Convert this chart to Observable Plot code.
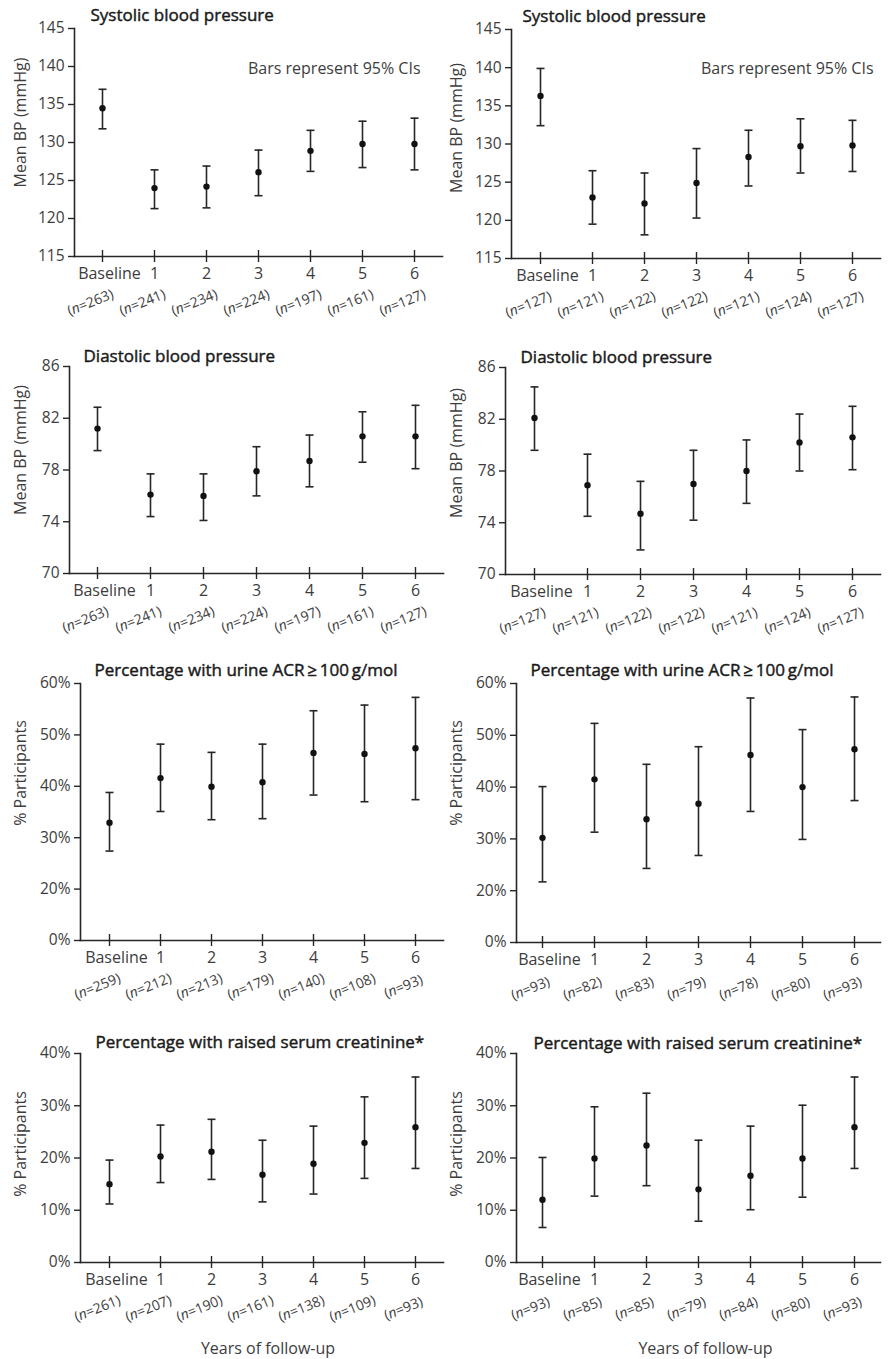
<!DOCTYPE html>
<html>
<head>
<meta charset="utf-8">
<script src="https://cdn.jsdelivr.net/npm/d3@7"></script>
<script src="https://cdn.jsdelivr.net/npm/@observablehq/plot@0.6"></script>
<style>
  html, body { margin: 0; padding: 0; background: #fff; }
  #wrap { position: relative; width: 888px; height: 1359px; background: #fff; overflow: hidden; }
  .panel { position: absolute; }
</style>
</head>
<body>
<div id="wrap"></div>
<script>
// ---------- data ----------
const years = ["Baseline", "1", "2", "3", "4", "5", "6"];

// Systolic BP (left column / right column)
const sbpL_mean = [134.5, 124.0, 124.2, 126.1, 128.9, 129.8, 129.8];
const sbpL_lo   = [131.8, 121.3, 121.4, 123.0, 126.2, 126.7, 126.4];
const sbpL_hi   = [137.0, 126.4, 126.9, 129.0, 131.6, 132.8, 133.2];
const sbpL_n    = [263, 241, 234, 224, 197, 161, 127];

const sbpR_mean = [136.3, 123.0, 122.2, 124.9, 128.3, 129.7, 129.8];
const sbpR_lo   = [132.4, 119.5, 118.1, 120.3, 124.5, 126.2, 126.4];
const sbpR_hi   = [139.9, 126.5, 126.2, 129.4, 131.8, 133.3, 133.1];
const sbpR_n    = [127, 121, 122, 122, 121, 124, 127];

// Diastolic BP
const dbpL_mean = [81.2, 76.1, 76.0, 77.9, 78.7, 80.6, 80.6];
const dbpL_lo   = [79.5, 74.4, 74.1, 76.0, 76.7, 78.6, 78.1];
const dbpL_hi   = [82.85, 77.7, 77.7, 79.8, 80.7, 82.5, 83.0];
const dbpL_n    = [263, 241, 234, 224, 197, 161, 127];

const dbpR_mean = [82.1, 76.9, 74.7, 77.0, 78.0, 80.2, 80.6];
const dbpR_lo   = [79.6, 74.5, 71.9, 74.2, 75.5, 78.0, 78.1];
const dbpR_hi   = [84.5, 79.3, 77.2, 79.6, 80.4, 82.4, 83.0];
const dbpR_n    = [127, 121, 122, 122, 121, 124, 127];

// Urine ACR >= 100 g/mol (%)
const acrL_mean = [32.9, 41.6, 39.9, 40.8, 46.5, 46.3, 47.4];
const acrL_lo   = [27.4, 35.1, 33.5, 33.7, 38.3, 37.0, 37.4];
const acrL_hi   = [38.8, 48.2, 46.6, 48.2, 54.7, 55.8, 57.3];
const acrL_n    = [259, 212, 213, 179, 140, 108, 93];

const acrR_mean = [30.2, 41.5, 33.8, 36.8, 46.2, 40.0, 47.3];
const acrR_lo   = [21.7, 31.3, 24.3, 26.8, 35.3, 29.9, 37.4];
const acrR_hi   = [40.1, 52.3, 44.4, 47.8, 57.2, 51.1, 57.4];
const acrR_n    = [93, 82, 83, 79, 78, 80, 93];

// Raised serum creatinine (%)
const crL_mean = [15.0, 20.3, 21.2, 16.8, 18.9, 22.9, 25.9];
const crL_lo   = [11.2, 15.3, 15.9, 11.6, 13.1, 16.1, 18.0];
const crL_hi   = [19.6, 26.3, 27.4, 23.4, 26.1, 31.7, 35.5];
const crL_n    = [261, 207, 190, 161, 138, 109, 93];

const crR_mean = [12.0, 19.9, 22.4, 14.0, 16.6, 19.9, 25.9];
const crR_lo   = [6.7, 12.7, 14.7, 7.9, 10.1, 12.5, 18.0];
const crR_hi   = [20.1, 29.8, 32.4, 23.4, 26.1, 30.1, 35.5];
const crR_n    = [93, 85, 85, 79, 84, 80, 93];

// tick values
const bpSysTicks = [115, 120, 125, 130, 135, 140, 145];
const bpDiaTicks = [70, 74, 78, 82, 86];
const acrTicks = [0, 20, 30, 40, 50, 60];
const crTicks = [0, 10, 20, 30, 40];

const titles = {
  sbp: "Systolic blood pressure",
  dbp: "Diastolic blood pressure",
  acr: "Percentage with urine ACR\u2009\u2265\u2009100\u2009g/mol",
  cr: "Percentage with raised serum creatinine*"
};
const yLabelBP = "Mean BP (mmHg)";
const yLabelPct = "% Participants";
const noteText = "Bars represent 95% CIs";
const xLabelText = "Years of follow-up";

// ---------- drawing ----------
const INK = "#262626";
const TXT = "#3d3d3d";
const FONT = "'Open Sans', Lato, sans-serif";
const wrap = document.getElementById("wrap");

// horizontal cap symbol for the error-bar ends
const capSymbol = {
  draw(context, size) {
    const r = Math.sqrt(size / Math.PI);
    context.moveTo(-r, 0);
    context.lineTo(r, 0);
  }
};

function rows(mean, lo, hi, n) {
  return years.map((y, i) => ({year: y, mean: mean[i], lo: lo[i], hi: hi[i], n: n[i]}));
}

function panel(p) {
  const data = rows(p.mean, p.lo, p.hi, p.n);
  const W = 444;
  const bottomPx = p.h - p.mB;
  const yScale = {type: "linear", domain: p.yDomain};
  if (p.breakAt) {
    // axis with a break: equal spacing between first and second tick
    const span = bottomPx - p.mT;
    yScale.range = [bottomPx, bottomPx - span / (p.yTicks.length - 1), p.mT];
  }
  const marks = [
    Plot.frame({anchor: "left", stroke: INK, strokeWidth: 1.6}),
    Plot.frame({anchor: "bottom", stroke: INK, strokeWidth: 1.6}),
    Plot.axisY({ticks: p.yTicks, tickFormat: p.yFmt, tickSize: 6, tickPadding: 4, label: null,
      stroke: INK, strokeWidth: 1.4, fill: TXT, fontSize: 15.5}),
    Plot.axisX({tickSize: 6, tickFormat: () => "", label: null, stroke: INK, strokeWidth: 1.4}),
    Plot.axisX({tickSize: -6, tickFormat: () => "", label: null, stroke: INK, strokeWidth: 1.4}),
    // category labels
    Plot.text(years.filter(d => d !== "Baseline"), {x: d => d, frameAnchor: "bottom", lineAnchor: "middle",
      dy: 17, fill: TXT, fontSize: 16}),
    Plot.text(years.filter(d => d === "Baseline"), {x: d => d, frameAnchor: "bottom", lineAnchor: "middle",
      dy: 17, dx: 7, fill: TXT, fontSize: 16}),
    // n labels
    Plot.text(data, {x: "year", text: d => `(n=${d.n})`, frameAnchor: "bottom", lineAnchor: "middle",
      textAnchor: "middle", rotate: -22, dx: -12, dy: 46, fill: TXT, fontSize: 14}),
    // error bars
    Plot.ruleX(data, {x: "year", y1: "lo", y2: "hi", stroke: INK, strokeWidth: 1.6}),
    Plot.dot(data, {x: "year", y: "hi", symbol: capSymbol, r: 4, stroke: INK, strokeWidth: 1.6, fill: "none"}),
    Plot.dot(data, {x: "year", y: "lo", symbol: capSymbol, r: 4, stroke: INK, strokeWidth: 1.6, fill: "none"}),
    Plot.dot(data, {x: "year", y: "mean", r: 3.2, fill: "#111", stroke: "none"}),
    // title (slightly emboldened regular weight to approximate a medium face)
    Plot.text([p.title], {frameAnchor: "top-left", textAnchor: "start", lineAnchor: "middle",
      dx: p.tdx, dy: p.tdy, fill: "#1a1a1a", stroke: "#1a1a1a", strokeWidth: 0.45, fontSize: 17}),
    // y label
    Plot.text([p.ylabel], {frameAnchor: "left", textAnchor: "middle", lineAnchor: "middle", rotate: -90,
      dx: p.ldx, dy: p.ldy, fill: TXT, fontSize: 16})
  ];
  if (p.note) {
    marks.push(Plot.text([noteText], {frameAnchor: "top-right", textAnchor: "end", lineAnchor: "middle",
      dx: p.ndx, dy: p.ndy, fill: TXT, fontSize: 16}));
  }
  if (p.xlabel) {
    marks.push(Plot.text([xLabelText], {frameAnchor: "bottom", textAnchor: "middle", lineAnchor: "middle",
      dx: p.xdx, dy: 86, fill: TXT, fontSize: 16}));
  }
  const svg = Plot.plot({
    width: W,
    height: p.h,
    marginLeft: p.mL,
    marginRight: p.mR,
    marginTop: p.mT,
    marginBottom: p.mB,
    x: {type: "point", domain: years, padding: 0.5},
    y: yScale,
    style: {fontFamily: FONT, fontSize: "15px", color: TXT,
      background: "transparent", overflow: "visible"},
    marks
  });
  // italic n in the sample-size labels
  d3.select(svg).selectAll("text").each(function () {
    const t = this.textContent;
    if (t.startsWith("(n=")) {
      const sel = d3.select(this);
      sel.text(null);
      sel.append("tspan").text("(");
      sel.append("tspan").attr("font-style", "italic").text("n");
      sel.append("tspan").text(t.slice(2));
    }
  });
  const div = document.createElement("div");
  div.className = "panel";
  div.style.left = p.left + "px";
  div.style.top = p.top + "px";
  div.appendChild(svg);
  wrap.appendChild(div);
}

const pctFmt = d => d + "%";

panel({left: 0, top: 0, h: 330, mL: 74, mR: 2, mT: 28, mB: 74,
  yDomain: [115, 145], yTicks: bpSysTicks, yFmt: d => d,
  mean: sbpL_mean, lo: sbpL_lo, hi: sbpL_hi, n: sbpL_n,
  title: titles.sbp, tdx: 16, tdy: -13, ylabel: yLabelBP, ldx: -54, ldy: -20,
  note: true, ndx: -22, ndy: 40});
panel({left: 444, top: 0, h: 330, mL: 67, mR: 8, mT: 29, mB: 72,
  yDomain: [115, 145], yTicks: bpSysTicks, yFmt: d => d,
  mean: sbpR_mean, lo: sbpR_lo, hi: sbpR_hi, n: sbpR_n,
  title: titles.sbp, tdx: 11, tdy: -13, ylabel: yLabelBP, ldx: -55, ldy: -16,
  note: true, ndx: -7, ndy: 39});
panel({left: 0, top: 330, h: 330, mL: 69, mR: 1, mT: 36, mB: 87,
  yDomain: [70, 86], yTicks: bpDiaTicks, yFmt: d => d,
  mean: dbpL_mean, lo: dbpL_lo, hi: dbpL_hi, n: dbpL_n,
  title: titles.dbp, tdx: 14, tdy: -10, ylabel: yLabelBP, ldx: -49, ldy: -20});
panel({left: 444, top: 330, h: 330, mL: 61, mR: 8, mT: 37, mB: 86,
  yDomain: [70, 86], yTicks: bpDiaTicks, yFmt: d => d,
  mean: dbpR_mean, lo: dbpR_lo, hi: dbpR_hi, n: dbpR_n,
  title: titles.dbp, tdx: 15, tdy: -10, ylabel: yLabelBP, ldx: -49, ldy: -18});
panel({left: 0, top: 655, h: 355, mL: 80, mR: 1, mT: 28, mB: 70,
  yDomain: [0, 20, 60], breakAt: 20, yTicks: acrTicks, yFmt: pctFmt,
  mean: acrL_mean, lo: acrL_lo, hi: acrL_hi, n: acrL_n,
  title: titles.acr, tdx: 14, tdy: -13, ylabel: yLabelPct, ldx: -60, ldy: -39});
panel({left: 444, top: 655, h: 355, mL: 72, mR: 8, mT: 28, mB: 68,
  yDomain: [0, 20, 60], breakAt: 20, yTicks: acrTicks, yFmt: pctFmt,
  mean: acrR_mean, lo: acrR_lo, hi: acrR_hi, n: acrR_n,
  title: titles.acr, tdx: 14, tdy: -13, ylabel: yLabelPct, ldx: -60, ldy: -40});
panel({left: 0, top: 1010, h: 349, mL: 80, mR: 1, mT: 43, mB: 97,
  yDomain: [0, 40], yTicks: crTicks, yFmt: pctFmt,
  mean: crL_mean, lo: crL_lo, hi: crL_hi, n: crL_n,
  title: titles.cr, tdx: 15, tdy: -11, ylabel: yLabelPct, ldx: -60, ldy: -14,
  xlabel: true, xdx: 6});
panel({left: 444, top: 1010, h: 349, mL: 72, mR: 8, mT: 43, mB: 97,
  yDomain: [0, 40], yTicks: crTicks, yFmt: pctFmt,
  mean: crR_mean, lo: crR_lo, hi: crR_hi, n: crR_n,
  title: titles.cr, tdx: 17, tdy: -10, ylabel: yLabelPct, ldx: -60, ldy: -14,
  xlabel: true, xdx: 7});
</script>
</body>
</html>
